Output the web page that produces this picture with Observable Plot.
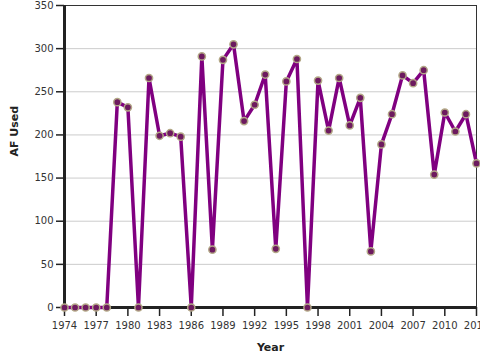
<!DOCTYPE html>
<html>
<head>
<meta charset="utf-8">
<script src="https://cdn.jsdelivr.net/npm/d3@7"></script>
<script src="https://cdn.jsdelivr.net/npm/@observablehq/plot@0.6"></script>
<style>
  html, body { margin: 0; padding: 0; background: #fff; overflow: hidden; }
  #chart svg { font-family: "DejaVu Sans", sans-serif; }
</style>
</head>
<body>
<div id="chart"></div>
<script>
const years = [1974,1975,1976,1977,1978,1979,1980,1981,1982,1983,1984,1985,1986,1987,1988,1989,1990,1991,1992,1993,1994,1995,1996,1997,1998,1999,2000,2001,2002,2003,2004,2005,2006,2007,2008,2009,2010,2011,2012,2013];
const afUsed = [0,0,0,0,0,238,232,0,266,199,202,198,0,291,67,287,305,216,235,270,68,262,288,0,263,205,266,211,243,65,189,224,269,260,275,154,226,204,224,167];
const xTicks = [1974,1977,1980,1983,1986,1989,1992,1995,1998,2001,2004,2007,2010,2013];
const yTicks = [0,50,100,150,200,250,300,350];
const xLabel = "Year";
const yLabel = "AF Used";

const data = years.map((y, i) => ({year: y, value: afUsed[i]}));

const chart = Plot.plot({
  width: 480,
  height: 360,
  marginLeft: 64,
  marginRight: 4,
  marginTop: 5,
  marginBottom: 53,
  style: {fontFamily: "DejaVu Sans, sans-serif", fontSize: "10px", color: "#333", background: "#fff"},
  x: {domain: [1974, 2013], ticks: xTicks, tickFormat: "d"},
  y: {domain: [0, 350], ticks: yTicks},
  marks: [
    Plot.gridY(yTicks, {stroke: "#cccccc", strokeOpacity: 1, strokeWidth: 1}),
    Plot.frame({stroke: "#333", strokeWidth: 1}),
    Plot.axisY(yTicks, {tickSize: 8, tickPadding: 3, label: null, stroke: "#222", strokeWidth: 1.5, fill: "#333", fontSize: 10}),
    Plot.axisX(xTicks, {tickSize: 9, tickPadding: 5, label: null, stroke: "#222", strokeWidth: 1.5, fill: "#333", fontSize: 10, tickFormat: "d"}),
    Plot.ruleX([1974], {stroke: "#222", strokeWidth: 3}),
    Plot.ruleY([0], {stroke: "#222", strokeWidth: 3}),
    Plot.line(data, {x: "year", y: "value", stroke: "#800080", strokeWidth: 3.5}),
    Plot.dot(data, {x: "year", y: "value", r: 3.6, fill: "#6d1a5f", stroke: "#b3a887", strokeWidth: 1.5}),
    Plot.text([yLabel], {frameAnchor: "left", dx: -50, rotate: -90, fontWeight: "bold", fontSize: 11, fill: "#222"}),
    Plot.text([xLabel], {frameAnchor: "bottom", dy: 43, fontWeight: "bold", fontSize: 11, fill: "#222"})
  ]
});
document.getElementById("chart").appendChild(chart);
</script>
</body>
</html>
